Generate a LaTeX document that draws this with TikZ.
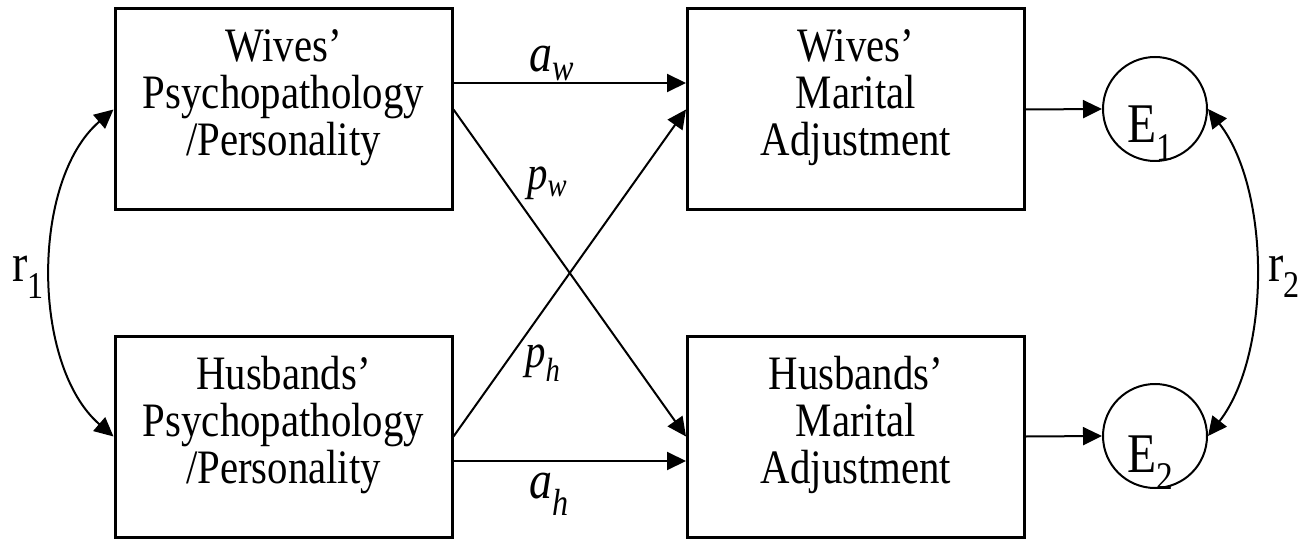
\documentclass[tikz,border=0pt]{standalone}
\usepackage{fontspec}
\setmainfont{Liberation Serif}
\newfontfamily\condserif[FakeStretch=0.85]{Liberation Serif}
\usetikzlibrary{arrows.meta}
\begin{document}
\begin{tikzpicture}[x=1pt,y=-1pt,
  box/.style={draw, line width=3pt, minimum width=337pt, minimum height=201pt, inner sep=0pt},
  boxtext/.style={font=\condserif\fontsize{48}{47}\selectfont, align=center, inner sep=0pt},
  arr/.style={line width=2pt, -{Triangle[length=19pt,width=18pt]}},
  dbl/.style={line width=2pt, {Triangle[length=19pt,width=18pt]}-{Triangle[length=19pt,width=18pt]}},
  err/.style={draw, circle, line width=2pt, minimum size=104pt, inner sep=0pt},
  lab/.style={inner sep=0pt, anchor=base west},
  biglab/.style={lab, font=\condserif\fontsize{54}{56}\selectfont},
  plab/.style={lab, font=\condserif\fontsize{48}{50}\selectfont},
  rlab/.style={lab, font=\condserif\fontsize{54}{56}\selectfont},
  elab/.style={lab, font=\condserif\fontsize{56}{58}\selectfont}
]
\useasboundingbox (0,0) rectangle (1315,540);

\node[box] (wp) at (283.5,109.5) {};
\node[box] (hp) at (283.5,436.5) {};
\node[box] (wm) at (856,109.5) {};
\node[box] (hm) at (856,436.5) {};

\node[boxtext] (wpt) at ([yshift=11.5pt]wp.center) {Wives’\\Psychopathology\\/Personality};
\node[boxtext] (hpt) at ([yshift=11.5pt]hp.center) {Husbands’\\Psychopathology\\/Personality};
\node[boxtext] (wmt) at ([yshift=11.5pt]wm.center) {Wives’\\Marital\\Adjustment};
\node[boxtext] (hmt) at ([yshift=11.5pt]hm.center) {Husbands’\\Marital\\Adjustment};

\node[err] (e1) at (1155,109) {};
\node[err] (e2) at (1155,436) {};
\node[elab] (e1t) at (1127,143) {E\textsubscript{1}};
\node[elab] (e2t) at (1127,472) {E\textsubscript{2}};

\draw[arr] ([yshift=26.5pt]wp.east) -- ([yshift=26.5pt]wm.west);
\draw[arr] ([yshift=-24.5pt]hp.east) -- ([yshift=-24.5pt]hm.west);
\draw[arr] (wp.east) -- (hm.west);
\draw[arr] (hp.east) -- (wm.west);
\draw[arr] (wm.east) -- (e1.west);
\draw[arr] (hm.east) -- (e2.west);

\draw[dbl] (wp.west) .. controls (31,180) and (31,365) .. (hp.west);
\draw[dbl] (e1.east) .. controls (1271,190) and (1271,355) .. (e2.east);

\node[biglab] (aw) at (529,72) {\textit{a}\textsubscript{\textit{w}}};
\node[biglab] (ah) at (529,498) {\textit{a}\textsubscript{\textit{h}}};
\node[plab] (pw) at (527,190) {\textit{p}\textsubscript{\textit{w}}};
\node[plab] (ph) at (525,367) {\textit{p}\textsubscript{\textit{h}}};
\node[rlab] (r1) at (12,282) {r\textsubscript{1}};
\node[rlab] (r2) at (1268,281) {r\textsubscript{2}};
\end{tikzpicture}
\end{document}
